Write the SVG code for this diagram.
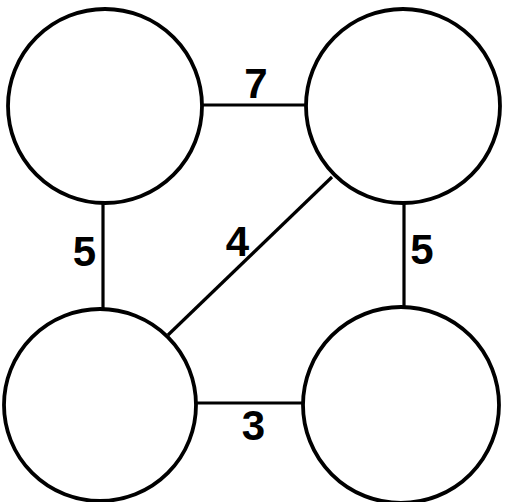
<svg xmlns="http://www.w3.org/2000/svg" width="505" height="502" viewBox="0 0 505 502">
<style>
.n{fill:none;stroke:#000;stroke-width:3.8}
.e{stroke:#000;stroke-width:3.2;fill:none}
.l{font-family:"Liberation Sans",Arial,sans-serif;font-weight:bold;font-size:42px;fill:#000;text-anchor:middle}
</style>
<rect width="505" height="502" fill="#fff"/>
<g id="edges">
<line class="e" x1="202" y1="105" x2="306" y2="105"/>
<line class="e" x1="103" y1="203" x2="103" y2="309"/>
<line class="e" x1="404" y1="203" x2="404" y2="308"/>
<line class="e" x1="196" y1="403" x2="303" y2="403"/>
<line class="e" x1="332" y1="177" x2="168" y2="335"/>
<text class="l" x="256" y="98">7</text>
<text class="l" x="84.5" y="266">5</text>
<text class="l" x="422" y="264">5</text>
<text class="l" x="253.5" y="440">3</text>
<text class="l" x="237.5" y="256">4</text>
</g>
<g id="n1"><circle class="n" cx="105" cy="106" r="97"/></g>
<g id="n2"><circle class="n" cx="403" cy="106" r="97"/></g>
<g id="n3"><circle class="n" cx="100" cy="405" r="96"/></g>
<g id="n4"><circle class="n" cx="401" cy="405" r="98"/></g>
</svg>
